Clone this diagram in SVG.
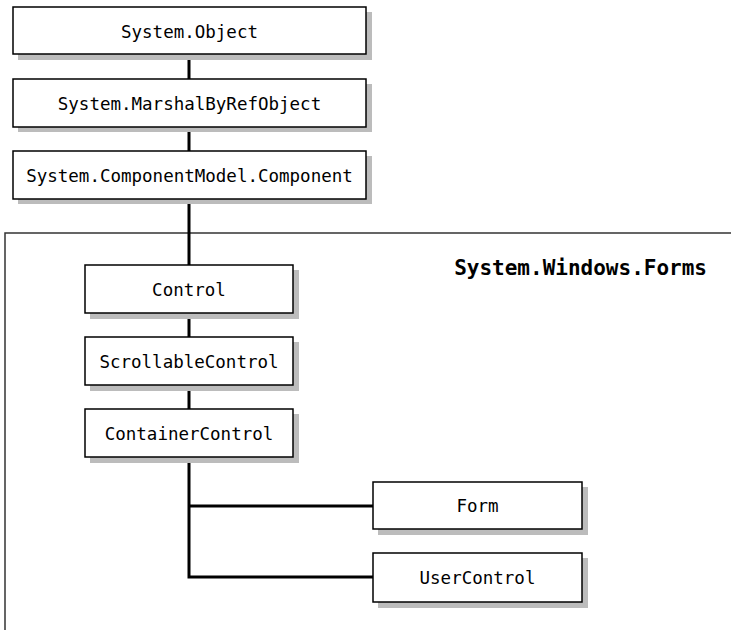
<svg xmlns="http://www.w3.org/2000/svg" width="731" height="631" viewBox="0 0 731 631">
<style>
.sh{fill:#bcbcbc}
.bx{fill:#fff;stroke:#000;stroke-width:1.5}
.t{font-family:"DejaVu Sans Mono","Liberation Mono",monospace;font-size:17.5px;fill:#000;text-anchor:middle}
.c{stroke:#000;stroke-width:3;fill:none}
</style>
<rect width="731" height="631" fill="#fff"/>
<g id="frame">
<path d="M5,630 V233 H731" fill="none" stroke="#333" stroke-width="1.5"/>
<text x="707" y="275" font-family="DejaVu Sans Mono,Liberation Mono,monospace" font-size="21" font-weight="bold" text-anchor="end">System.Windows.Forms</text>
</g>
<g id="connectors">
<path class="c" d="M189,54 V79 M189,127 V151 M189,199 V265 M189,313 V337 M189,385 V409 M189,457 V577 H373 M189,506 H373"/>
</g>
<g id="n1"><rect class="sh" x="18" y="12" width="354" height="48"/><rect class="bx" x="13" y="7" width="353" height="47"/><text class="t" x="189.5" y="37.5">System.Object</text></g>
<g id="n2"><rect class="sh" x="18" y="84" width="354" height="48"/><rect class="bx" x="13" y="79" width="353" height="48"/><text class="t" x="189.5" y="109.5">System.MarshalByRefObject</text></g>
<g id="n3"><rect class="sh" x="18" y="156" width="354" height="48"/><rect class="bx" x="13" y="151" width="353" height="48"/><text class="t" x="189.5" y="181.5">System.ComponentModel.Component</text></g>
<g id="n4"><rect class="sh" x="90" y="270" width="209" height="49"/><rect class="bx" x="85" y="265" width="208" height="48"/><text class="t" x="189" y="295.5">Control</text></g>
<g id="n5"><rect class="sh" x="90" y="342" width="209" height="49"/><rect class="bx" x="85" y="337" width="208" height="48"/><text class="t" x="189" y="367.5">ScrollableControl</text></g>
<g id="n6"><rect class="sh" x="90" y="414" width="209" height="49"/><rect class="bx" x="85" y="409" width="208" height="48"/><text class="t" x="189" y="439.5">ContainerControl</text></g>
<g id="n7"><rect class="sh" x="378" y="487" width="210" height="48"/><rect class="bx" x="373" y="482" width="209" height="47"/><text class="t" x="477.5" y="512">Form</text></g>
<g id="n8"><rect class="sh" x="378" y="558" width="210" height="50"/><rect class="bx" x="373" y="553" width="209" height="49"/><text class="t" x="477.5" y="583.5">UserControl</text></g>
</svg>
